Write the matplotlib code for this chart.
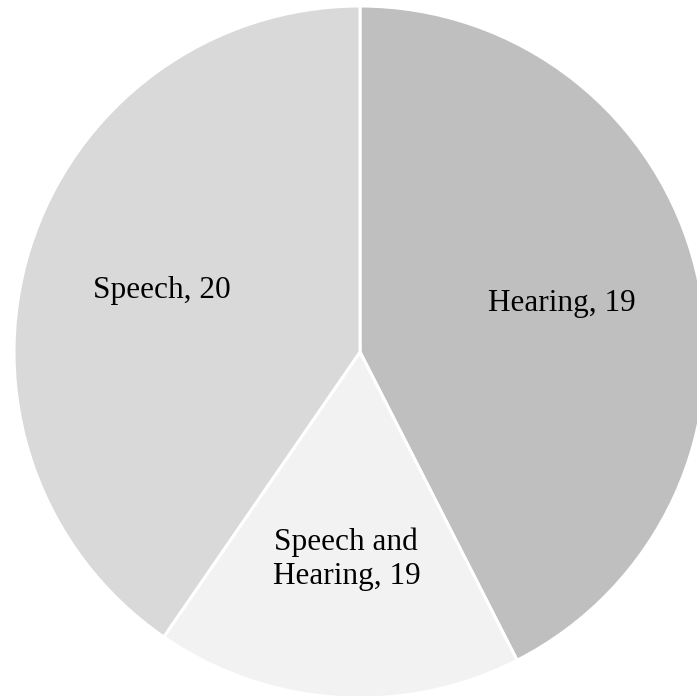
import matplotlib.pyplot as plt

# slice shares (clockwise from 12 o'clock)
categories = ['Hearing', 'Speech and\nHearing', 'Speech']
shares = [42.5, 17.1, 40.4]
counts = [19, 19, 20]
colours = ['#bfbfbf', '#f2f2f2', '#d9d9d9']

labels = [f'{c}, {n}' for c, n in zip(categories, counts)]

fig = plt.figure(figsize=(6.97, 6.96), dpi=100)
ax = fig.add_axes([0, 0, 1, 1])

wedges, texts = ax.pie(shares, labels=labels, colors=colours,
                       startangle=90, counterclock=False,
                       labeldistance=0.6, radius=1,
                       wedgeprops=dict(edgecolor='white', linewidth=2.2),
                       textprops=dict(family='Liberation Serif', fontsize=22.5,
                                      color='black', linespacing=1.25))
for t in texts:
    t.set_ha('center')
    t.set_va('center')

# pie centre sits at (360, 352) px with a 346 px radius
r = 346.0
ax.set_xlim(-360 / r, (697 - 360) / r)
ax.set_ylim(-(696 - 352) / r, 352 / r)
ax.set_aspect('auto')
ax.axis('off')

fig.savefig('out.png', dpi=100)
